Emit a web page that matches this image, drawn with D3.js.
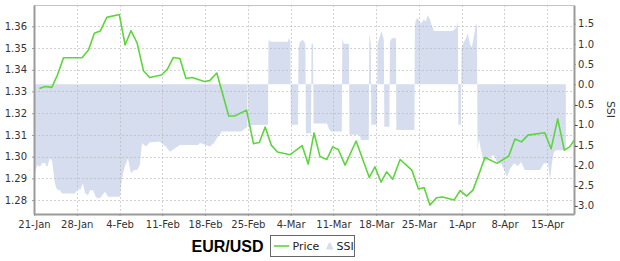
<!DOCTYPE html>
<html>
<head>
<meta charset="utf-8">
<script src="https://cdn.jsdelivr.net/npm/d3@7"></script>
<style>
  body { margin: 0; background: #fff; }
  .tick text { font-family: "DejaVu Sans", sans-serif; font-size: 10px; fill: #333; }
</style>
</head>
<body>
<svg id="chart" width="620" height="261"></svg>
<script>
// EUR/USD close
var priceDates = [
  "2013-01-21 21","2013-01-22 20","2013-01-23 22","2013-01-24 20","2013-01-25 20",
  "2013-01-28 20","2013-01-29 22","2013-01-30 21","2013-01-31 20","2013-02-01 22",
  "2013-02-03 23","2013-02-04 22","2013-02-05 21","2013-02-06 21","2013-02-07 22",
  "2013-02-08 22","2013-02-10 21","2013-02-11 20","2013-02-12 19","2013-02-13 21",
  "2013-02-14 21","2013-02-15 21","2013-02-17 21","2013-02-18 18","2013-02-19 22",
  "2013-02-21 21","2013-02-22 20","2013-02-24 19","2013-02-25 22","2013-02-26 21",
  "2013-02-27 20","2013-02-28 20","2013-03-01 20","2013-03-03 22","2013-03-05 21",
  "2013-03-06 21","2013-03-07 20","2013-03-08 19","2013-03-09 22","2013-03-10 21",
  "2013-03-11 19","2013-03-12 22","2013-03-14 17","2013-03-16 21","2013-03-17 19",
  "2013-03-18 19","2013-03-19 17","2013-03-20 17","2013-03-21 22","2013-03-23 20",
  "2013-03-24 22","2013-03-25 20","2013-03-26 19","2013-03-27 21","2013-03-28 21",
  "2013-03-30 18","2013-03-31 18","2013-04-01 19","2013-04-02 20","2013-04-03 22",
  "2013-04-04 19","2013-04-06 19","2013-04-08 17","2013-04-09 17","2013-04-10 19",
  "2013-04-11 20","2013-04-14 14","2013-04-15 15","2013-04-16 17","2013-04-17 19",
  "2013-04-18 17","2013-04-19 09"
];
var priceValues = [
  1.3314,1.3323,1.3319,1.3376,1.3455,
  1.3455,1.3491,1.3568,1.3578,1.3641,
  1.3654,1.3514,1.3580,1.3523,1.3395,
  1.3364,1.3376,1.3403,1.3456,1.3452,
  1.3360,1.3364,1.3346,1.3350,1.3385,
  1.3187,1.3187,1.3214,1.3060,1.3065,
  1.3136,1.3053,1.3021,1.3009,1.3051,
  1.2966,1.3109,1.3001,1.2987,1.3045,
  1.3033,1.2961,1.3072,1.2904,1.2953,
  1.2883,1.2930,1.2896,1.2987,1.2938,
  1.2851,1.2858,1.2777,1.2811,1.2814,
  1.2800,1.2844,1.2818,1.2846,1.2927,
  1.2996,1.2969,1.3003,1.3081,1.3068,
  1.3099,1.3110,1.3036,1.3174,1.3030,
  1.3046,1.3074
];

// speculative sentiment index
var ssiDates = [
  "2013-01-21 00","2013-01-21 04","2013-01-21 12","2013-01-22 00","2013-01-22 07",
  "2013-01-22 19","2013-01-23 03","2013-01-23 15","2013-01-23 23","2013-01-24 10",
  "2013-01-24 18","2013-01-25 06","2013-01-25 14","2013-01-27 17","2013-01-28 05",
  "2013-01-28 13","2013-01-29 00","2013-01-29 08","2013-01-29 20","2013-01-30 04",
  "2013-01-30 16","2013-01-31 04","2013-01-31 19","2013-02-01 07","2013-02-01 15",
  "2013-02-02 03","2013-02-04 02","2013-02-04 06","2013-02-04 14","2013-02-04 21",
  "2013-02-05 09","2013-02-05 21","2013-02-06 09","2013-02-06 21","2013-02-07 08",
  "2013-02-07 16","2013-02-08 08","2013-02-09 00","2013-02-10 14","2013-02-11 14",
  "2013-02-12 06","2013-02-12 22","2013-02-13 21","2013-02-16 20","2013-02-17 04",
  "2013-02-18 19","2013-02-19 11","2013-02-20 02","2013-02-20 18","2013-02-23 21",
  "2013-02-24 08","2013-02-24 22","2013-02-25 00","2013-02-25 02","2013-02-28 07",
  "2013-02-28 09","2013-02-28 15","2013-03-03 13","2013-03-03 17","2013-03-03 23",
  "2013-03-04 01","2013-03-05 05","2013-03-05 07","2013-03-05 12","2013-03-06 00",
  "2013-03-06 10","2013-03-06 12","2013-03-07 08","2013-03-07 10","2013-03-07 16",
  "2013-03-07 18","2013-03-09 23","2013-03-10 06","2013-03-10 14","2013-03-12 09",
  "2013-03-12 11","2013-03-12 17","2013-03-13 13","2013-03-13 15","2013-03-15 08",
  "2013-03-15 12","2013-03-16 19","2013-03-16 21","2013-03-17 03","2013-03-17 05",
  "2013-03-18 03","2013-03-18 05","2013-03-18 15","2013-03-18 21","2013-03-19 06",
  "2013-03-19 08","2013-03-20 04","2013-03-20 06","2013-03-20 14","2013-03-21 06",
  "2013-03-21 07","2013-03-24 06","2013-03-24 08","2013-03-24 12","2013-03-24 20",
  "2013-03-25 08","2013-03-25 19","2013-03-26 03","2013-03-26 11","2013-03-26 19",
  "2013-03-27 03","2013-03-27 11","2013-03-30 09","2013-03-30 21","2013-03-31 05",
  "2013-03-31 09","2013-03-31 11","2013-03-31 21","2013-03-31 23","2013-04-01 05",
  "2013-04-01 17","2013-04-02 00","2013-04-02 08","2013-04-02 16","2013-04-03 00",
  "2013-04-03 08","2013-04-03 12","2013-04-03 14","2013-04-03 19","2013-04-04 03",
  "2013-04-04 15","2013-04-05 15","2013-04-06 06","2013-04-06 18","2013-04-07 10",
  "2013-04-07 22","2013-04-08 10","2013-04-08 21","2013-04-09 13","2013-04-10 05",
  "2013-04-10 17","2013-04-11 08","2013-04-13 19","2013-04-14 11","2013-04-15 03",
  "2013-04-15 11","2013-04-15 18","2013-04-16 02","2013-04-16 10","2013-04-18 01"
];
var ssiValues = [
  -2.10,-2.20,-2.00,-2.04,-1.95,
  -1.94,-2.05,-1.83,-1.90,-2.45,
  -2.60,-2.62,-2.70,-2.70,-2.58,
  -2.62,-2.45,-2.68,-2.75,-2.62,
  -2.62,-2.80,-2.82,-2.72,-2.66,
  -2.78,-2.78,-2.49,-2.20,-2.04,
  -1.83,-2.20,-2.12,-2.12,-1.99,
  -1.46,-1.54,-1.43,-1.42,-1.54,
  -1.67,-1.60,-1.50,-1.50,-1.45,
  -1.54,-1.45,-1.30,-1.17,-1.17,
  -1.12,-1.05,0.80,-1.01,-1.00,
  1.10,1.05,1.05,1.15,1.05,
  -1.00,-1.00,0.90,1.05,1.10,
  1.00,-1.21,-1.21,1.00,1.00,
  -0.97,-0.97,-1.10,-1.17,-1.17,
  1.14,1.00,1.00,-1.25,-1.25,
  -1.38,-1.38,1.26,1.00,-1.00,
  -1.00,1.00,1.20,1.32,1.10,
  -1.05,-1.05,1.05,1.14,1.14,
  -1.13,-1.13,1.45,1.60,1.63,
  1.50,1.60,1.55,1.71,1.60,
  1.45,1.32,1.32,1.36,1.45,
  1.55,-1.00,-1.00,0.89,1.00,
  1.14,1.26,1.00,0.92,1.20,
  1.47,1.47,-1.67,-1.34,-1.60,
  -1.92,-1.80,-1.75,-1.92,-1.95,
  -2.10,-2.29,-2.10,-1.95,-2.02,
  -1.92,-2.12,-2.12,-1.95,-1.95,
  -2.37,-1.95,-1.68,-1.63,-1.63
];

var xTickDates = ["2013-01-21","2013-01-28","2013-02-04","2013-02-11","2013-02-18","2013-02-25",
  "2013-03-04","2013-03-11","2013-03-18","2013-03-25","2013-04-01","2013-04-08","2013-04-15"];
var priceTicks = [1.28, 1.29, 1.30, 1.31, 1.32, 1.33, 1.34, 1.35, 1.36];
var ssiTicks = [-3.0, -2.5, -2.0, -1.5, -1.0, -0.5, 0.0, 0.5, 1.0, 1.5];
var seriesNames = ["Price", "SSI"];

var parseHour = d3.utcParse("%Y-%m-%d %H");
var parseDay = d3.utcParse("%Y-%m-%d");

var price = priceDates.map(function(d, i) { return { date: parseHour(d), value: priceValues[i] }; });
var ssi = ssiDates.map(function(d, i) { return { date: parseHour(d), value: ssiValues[i] }; });

var plot = { left: 34, right: 574, top: 5, bottom: 214 };

var svg = d3.select("#chart");

var x = d3.scaleUtc()
  .domain([parseHour("2013-01-21 00"), parseHour("2013-04-19 09")])
  .range([plot.left, plot.right]);
var yPrice = d3.scaleLinear().domain([1.2736, 1.3698]).range([plot.bottom, plot.top]);
var ySsi = d3.scaleLinear().domain([-3.208, 1.961]).range([plot.bottom, plot.top]);

svg.append("defs").append("clipPath").attr("id", "clip")
  .append("rect")
  .attr("x", plot.left).attr("y", plot.top)
  .attr("width", plot.right - plot.left).attr("height", plot.bottom - plot.top);

/* SSI area */
var ssiArea = d3.area()
  .x(function(d) { return x(d.date); })
  .y0(ySsi(0))
  .y1(function(d) { return ySsi(d.value); });

svg.append("path")
  .attr("clip-path", "url(#clip)")
  .attr("fill", "#d6ddee")
  .attr("d", ssiArea(ssi));

/* grid */
var grid = svg.append("g").attr("stroke", "#b4b4b4").attr("stroke-opacity", 0.6)
  .attr("stroke-dasharray", "2,2").attr("stroke-width", 1);
grid.selectAll("line.h").data(priceTicks).enter().append("line")
  .attr("x1", plot.left).attr("x2", plot.right)
  .attr("y1", function(d) { return Math.round(yPrice(d)) + 0.5; })
  .attr("y2", function(d) { return Math.round(yPrice(d)) + 0.5; });
grid.selectAll("line.v").data(xTickDates.slice(1)).enter().append("line")
  .attr("y1", plot.top).attr("y2", plot.bottom)
  .attr("x1", function(d) { return Math.round(x(parseDay(d))) + 0.5; })
  .attr("x2", function(d) { return Math.round(x(parseDay(d))) + 0.5; });

/* price line */
var priceLine = d3.line()
  .x(function(d) { return x(d.date); })
  .y(function(d) { return yPrice(d.value); });

svg.append("path")
  .attr("clip-path", "url(#clip)")
  .attr("fill", "none")
  .attr("stroke", "#5cd63c")
  .attr("stroke-width", 1.6)
  .attr("stroke-linejoin", "round")
  .attr("d", priceLine(price));

/* frame + axes */
svg.append("line")
  .attr("x1", plot.left).attr("x2", plot.right)
  .attr("y1", plot.top + 0.5).attr("y2", plot.top + 0.5)
  .attr("stroke", "#c4c4c4");

var minusFix = function(f) { return function(d) { return f(d).replace("\u2212", "-"); }; };

var xAxis = d3.axisBottom(x)
  .tickValues(xTickDates.map(parseDay))
  .tickFormat(d3.utcFormat("%-d-%b"))
  .tickSize(2).tickSizeOuter(0).tickPadding(5);
var leftAxis = d3.axisLeft(yPrice)
  .tickValues(priceTicks)
  .tickFormat(d3.format(".2f"))
  .tickSize(2).tickSizeOuter(0).tickPadding(5);
var rightAxis = d3.axisRight(ySsi)
  .tickValues(ssiTicks)
  .tickFormat(minusFix(d3.format(".1f")))
  .tickSize(2).tickSizeOuter(0).tickPadding(5);

var gx = svg.append("g").attr("transform", "translate(0," + plot.bottom + ")").call(xAxis);
var gl = svg.append("g").attr("transform", "translate(" + plot.left + ",0)").call(leftAxis);
var gr = svg.append("g").attr("transform", "translate(" + plot.right + ",0)").call(rightAxis);
gr.selectAll(".tick text").attr("text-anchor", "end").attr("x", 20);

[gx, gl, gr].forEach(function(g) {
  g.select(".domain").attr("stroke", "#9a9a9a").attr("stroke-width", 2);
  g.selectAll(".tick line").attr("stroke", "#9a9a9a");
});

svg.append("text")
  .attr("transform", "translate(606.5," + ((plot.top + plot.bottom) / 2) + ") rotate(90)")
  .attr("text-anchor", "middle")
  .attr("font-family", "DejaVu Sans, sans-serif")
  .attr("font-size", 11)
  .attr("fill", "#333")
  .text("SSI");

/* legend */
svg.append("text")
  .attr("x", 191.5).attr("y", 251.5)
  .attr("font-family", "Liberation Sans, Arial, sans-serif")
  .attr("font-weight", "bold")
  .attr("font-size", 16)
  .attr("fill", "#000")
  .text("EUR/USD");

var legend = svg.append("g");
legend.append("rect")
  .attr("x", 270.5).attr("y", 235.5).attr("width", 84).attr("height", 21)
  .attr("fill", "#fff").attr("stroke", "#666");
legend.append("line")
  .attr("x1", 274).attr("x2", 289).attr("y1", 246).attr("y2", 246)
  .attr("stroke", "#5cd63c").attr("stroke-width", 1.6);
legend.append("text")
  .attr("x", 292.5).attr("y", 250)
  .attr("font-family", "DejaVu Sans, sans-serif").attr("font-size", 11).attr("fill", "#222")
  .text(seriesNames[0]);
legend.append("path")
  .attr("d", "M326,249.5 L328.5,243.5 Q329.7,241.5 330.9,243.5 L333.5,249.5 Z")
  .attr("fill", "#d6ddee");
legend.append("text")
  .attr("x", 336.5).attr("y", 250)
  .attr("font-family", "DejaVu Sans, sans-serif").attr("font-size", 11).attr("fill", "#222")
  .text(seriesNames[1]);
</script>
</body>
</html>
